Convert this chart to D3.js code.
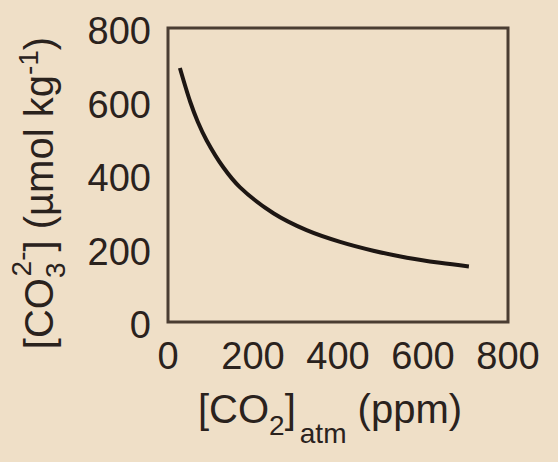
<!DOCTYPE html>
<html>
<head>
<meta charset="utf-8">
<script src="https://cdn.jsdelivr.net/npm/d3@7"></script>
<style>
  body { margin: 0; background: #efdfc7; }
  svg text { font-family: "Liberation Sans", Arial, sans-serif; fill: #2a221d; }
</style>
</head>
<body>
<div class="chart"></div>
<script>
// values
var co2 = [28, 52, 70, 91, 130, 169, 248, 326, 405, 483, 562, 640, 708];
var co3 = [691, 600, 545, 494, 421, 367, 296, 250, 218, 194, 175, 161, 151];
var xTicks = [0, 200, 400, 600, 800];
var yTicks = [0, 200, 400, 600, 800];

var W = 558, H = 462;

var svg = d3.select('.chart')
  .append('svg')
  .attr('width', W)
  .attr('height', H);

var x = d3.scaleLinear().domain([0, 800]).range([168, 508]);
var y = d3.scaleLinear().domain([0, 800]).range([322, 28]);

// frame
svg.append('rect')
  .attr('x', x(0))
  .attr('y', y(800))
  .attr('width', x(800) - x(0))
  .attr('height', y(0) - y(800))
  .style('fill', 'none')
  .style('stroke', '#4a3d32')
  .style('stroke-width', 3);

// tick labels
svg.selectAll('.xlab')
  .data(xTicks)
  .enter()
  .append('text')
  .attr('class', 'xlab')
  .attr('x', d => x(d))
  .attr('y', 369)
  .style('text-anchor', 'middle')
  .style('font-size', '38px')
  .text(d => d);

svg.selectAll('.ylab')
  .data(yTicks)
  .enter()
  .append('text')
  .attr('class', 'ylab')
  .attr('x', 151)
  .attr('y', d => y(d) + 16)
  .style('text-anchor', 'end')
  .style('font-size', '38px')
  .text(d => d);

// curve
var line = d3.line()
  .x((d, i) => x(co2[i]))
  .y(d => y(d))
  .curve(d3.curveCatmullRom.alpha(0.5));

svg.append('path')
  .attr('d', line(co3))
  .style('fill', 'none')
  .style('stroke', '#1d1613')
  .style('stroke-width', 4);

// x title
var xt = svg.append('text')
  .attr('x', 330)
  .attr('y', 423)
  .style('text-anchor', 'middle')
  .style('font-size', '40px');
xt.append('tspan').text('[CO');
xt.append('tspan').attr('dy', 12).style('font-size', '28px').text('2');
xt.append('tspan').attr('dy', -12).text(']');
xt.append('tspan').attr('dx', 4).attr('dy', 20).style('font-size', '28px').text('atm');
xt.append('tspan').attr('dy', -20).text(' (ppm)');

// y title
var yt = svg.append('text')
  .attr('transform', 'translate(53,193) rotate(-90)')
  .style('text-anchor', 'middle')
  .style('font-size', '40px');
yt.append('tspan').text('[CO');
yt.append('tspan').attr('dy', 12).style('font-size', '28px').text('3');
yt.append('tspan').attr('dx', -14).attr('dy', -34).style('font-size', '28px').text('2-');
yt.append('tspan').attr('dy', 22).text('] (µmol kg');
yt.append('tspan').attr('dy', -15).style('font-size', '28px').text('-1');
yt.append('tspan').attr('dy', 15).text(')');
</script>
</body>
</html>
